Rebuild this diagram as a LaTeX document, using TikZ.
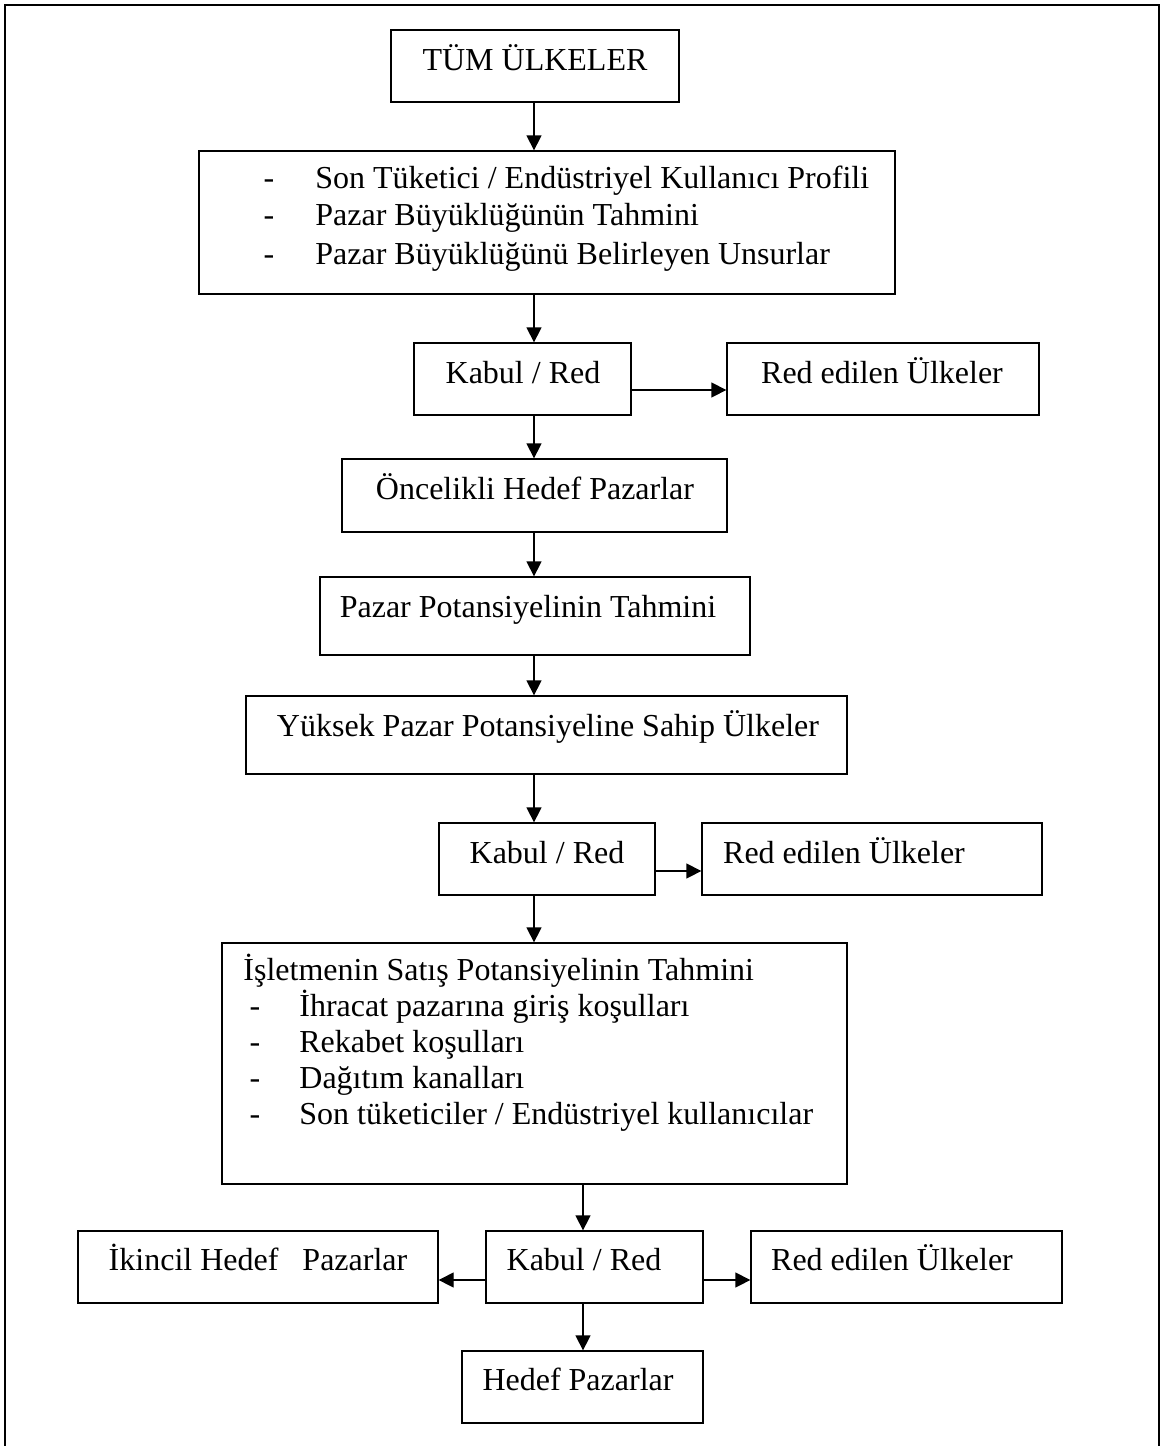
\documentclass[tikz,border=0pt]{standalone}
\usepackage{fontspec}
\setmainfont{Liberation Serif}
\usetikzlibrary{arrows.meta,fit}

\begin{document}
\begin{tikzpicture}[x=0.5pt,y=-0.5pt,
  box/.style={draw, line width=0.65pt, inner sep=0pt},
  lbl/.style={anchor=base, inner sep=0pt, font=\fontsize{16}{18}\selectfont},
  lft/.style={anchor=base west, inner sep=0pt, font=\fontsize{16}{18}\selectfont},
  arr/.style={-{Triangle[length=7.5pt,width=7.5pt]}, line width=0.65pt}]
\useasboundingbox (0,0) rectangle (1160,1446);

% page frame (bottom edge runs off the page)
\draw[line width=0.7pt] (5,1480) -- (5,5) -- (1159,5) -- (1159,1480);

% x positions of the vertical connectors, y positions of the side ones
\coordinate (ux) at (534,0);
\coordinate (lx) at (583,0);
\coordinate (h1) at (0,390);
\coordinate (h2) at (0,871);
\coordinate (h3) at (0,1280);

% boxes
\node[box, fit={(391,30) (679,102)}] (all) {};
\node[box, fit={(199,151) (895,294)}] (crit) {};
\node[box, fit={(414,343) (631,415)}] (kr1) {};
\node[box, fit={(727,343) (1039,415)}] (rej1) {};
\node[box, fit={(342,459) (727,532)}] (prio) {};
\node[box, fit={(320,577) (750,655)}] (potest) {};
\node[box, fit={(246,696) (847,774)}] (high) {};
\node[box, fit={(439,823) (655,895)}] (kr2) {};
\node[box, fit={(702,823) (1042,895)}] (rej2) {};
\node[box, fit={(222,943) (847,1184)}] (sales) {};
\node[box, fit={(486,1231) (703,1303)}] (kr3) {};
\node[box, fit={(78,1231) (438,1303)}] (second) {};
\node[box, fit={(751,1231) (1062,1303)}] (rej3) {};
\node[box, fit={(462,1351) (703,1423)}] (target) {};

% texts
\node[lbl] (allT) at (535,70) {TÜM ÜLKELER};

\node[lbl] (critD1) at (269,188) {-};
\node[lft] (critT1) at (315,188) {Son Tüketici / Endüstriyel Kullanıcı Profili};
\node[lbl] (critD2) at (269,225) {-};
\node[lft] (critT2) at (315,225) {Pazar Büyüklüğünün Tahmini};
\node[lbl] (critD3) at (269,264) {-};
\node[lft] (critT3) at (315,264) {Pazar Büyüklüğünü Belirleyen Unsurlar};

\node[lbl] (kr1T) at (523,383) {Kabul / Red};
\node[lbl] (rej1T) at (882,383) {Red edilen Ülkeler};
\node[lbl] (prioT) at (535,499) {Öncelikli Hedef Pazarlar};
\node[lbl] (potestT) at (528,617) {Pazar Potansiyelinin Tahmini};
\node[lbl] (highT) at (548,736) {Yüksek Pazar Potansiyeline Sahip Ülkeler};
\node[lbl] (kr2T) at (547,863) {Kabul / Red};
\node[lbl] (rej2T) at (844,863) {Red edilen Ülkeler};

\node[lft] (salesT) at (243,980) {İşletmenin Satış Potansiyelinin Tahmini};
\node[lbl] (salesD1) at (255,1016) {-};
\node[lft] (salesT1) at (299,1016) {İhracat pazarına giriş koşulları};
\node[lbl] (salesD2) at (255,1052) {-};
\node[lft] (salesT2) at (299,1052) {Rekabet koşulları};
\node[lbl] (salesD3) at (255,1088) {-};
\node[lft] (salesT3) at (299,1088) {Dağıtım kanalları};
\node[lbl] (salesD4) at (255,1124) {-};
\node[lft] (salesT4) at (299,1124) {Son tüketiciler / Endüstriyel kullanıcılar};

\node[lbl] (kr3T) at (584,1270) {Kabul / Red};
\node[lbl] (secondT) at (258,1270) {İkincil Hedef\ \ \ Pazarlar};
\node[lbl] (rej3T) at (892,1270) {Red edilen Ülkeler};
\node[lbl] (targetT) at (578,1390) {Hedef Pazarlar};

% connectors
\draw[arr] (all.south -| ux) -- (crit.north -| ux);
\draw[arr] (crit.south -| ux) -- (kr1.north -| ux);
\draw[arr] (kr1.east |- h1) -- (rej1.west |- h1);
\draw[arr] (kr1.south -| ux) -- (prio.north -| ux);
\draw[arr] (prio.south -| ux) -- (potest.north -| ux);
\draw[arr] (potest.south -| ux) -- (high.north -| ux);
\draw[arr] (high.south -| ux) -- (kr2.north -| ux);
\draw[arr] (kr2.east |- h2) -- (rej2.west |- h2);
\draw[arr] (kr2.south -| ux) -- (sales.north -| ux);
\draw[arr] (sales.south -| lx) -- (kr3.north -| lx);
\draw[arr] (kr3.west |- h3) -- (second.east |- h3);
\draw[arr] (kr3.east |- h3) -- (rej3.west |- h3);
\draw[arr] (kr3.south -| lx) -- (target.north -| lx);
\end{tikzpicture}
\end{document}
